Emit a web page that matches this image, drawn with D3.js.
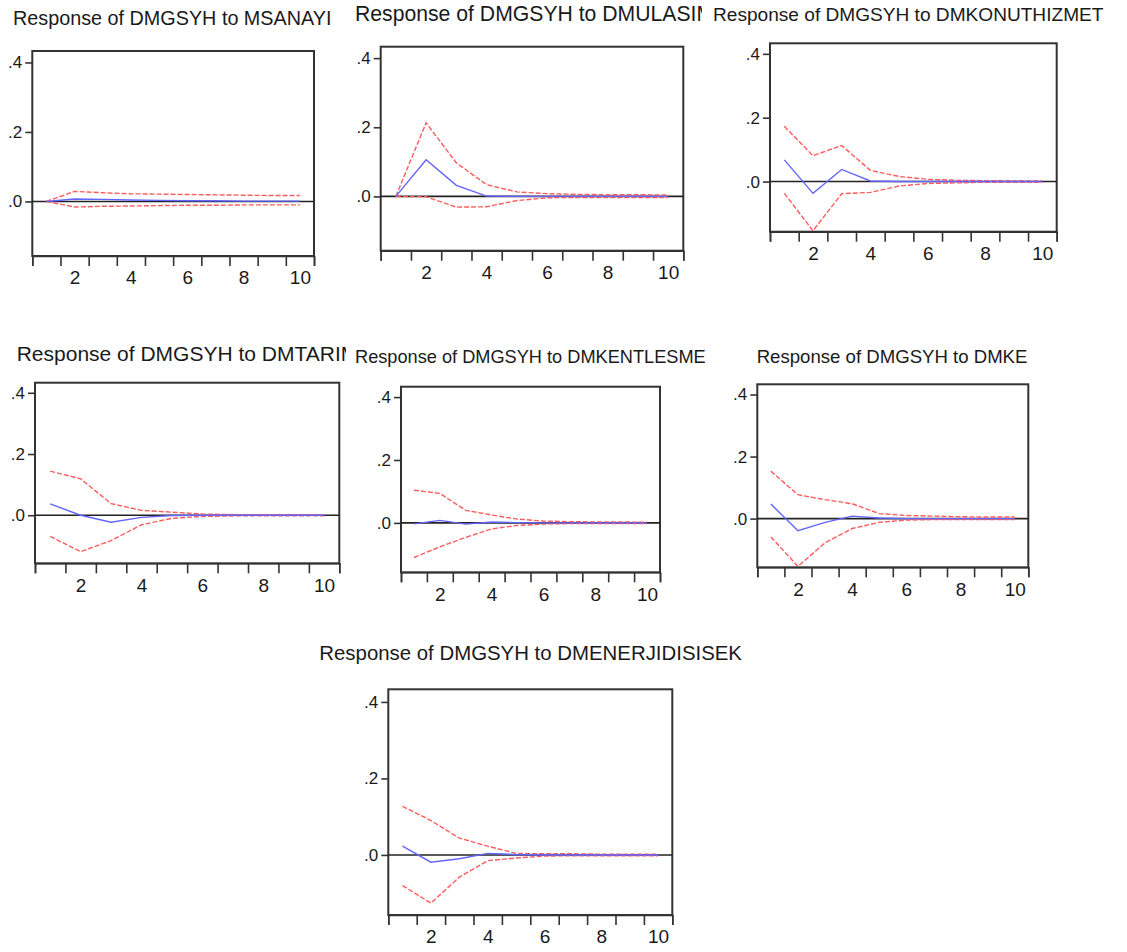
<!DOCTYPE html>
<html>
<head>
<meta charset="utf-8">
<script src="https://cdnjs.cloudflare.com/ajax/libs/d3/7.8.5/d3.min.js"></script>
<style>
  body { margin: 0; background: #fff; }
  svg { display: block; }
  .title { font-family: "Liberation Sans", Arial, sans-serif; fill: #1a1a1a; }
  .axis text { font-family: "Liberation Sans Narrow", "Arial Narrow", "Liberation Sans", Arial, sans-serif; fill: #1a1a1a; }
  .axis path, .axis line { stroke: #333; stroke-width: 1.6; }
</style>
</head>
<body>
<div id="chart"></div>
<script>
var periods = [1, 2, 3, 4, 5, 6, 7, 8, 9, 10];
var xTickLabels = [2, 4, 6, 8, 10];
var yTickValues = [0, 0.2, 0.4];
var yTickLabels = [".0", ".2", ".4"];

var shocks = ["MSANAYI", "DMULASIM", "DMKONUTHIZMET", "DMTARIM", "DMKENTLESME", "DMKE", "DMENERJIDISISEK"];

// impulse responses (blue) and +/- 2 s.e. bands (red dashed)
var msanayiResp = [0, 0.007, 0.006, 0.004, 0.003, 0.002, 0.002, 0.001, 0.001, 0.001];
var msanayiUp   = [0, 0.029, 0.025, 0.022, 0.021, 0.020, 0.019, 0.018, 0.017, 0.017];
var msanayiLo   = [0, -0.016, -0.014, -0.013, -0.012, -0.011, -0.011, -0.010, -0.010, -0.010];

var ulasimResp = [0, 0.106, 0.032, 0.001, 0, 0, 0, 0, 0, 0];
var ulasimUp   = [0, 0.213, 0.097, 0.034, 0.013, 0.008, 0.006, 0.005, 0.005, 0.004];
var ulasimLo   = [0, -0.001, -0.031, -0.030, -0.012, -0.004, -0.003, -0.003, -0.003, -0.003];

var konutResp = [0.068, -0.037, 0.038, 0.002, 0, 0, 0, 0, 0, 0];
var konutUp   = [0.173, 0.081, 0.113, 0.035, 0.016, 0.007, 0.004, 0.003, 0.002, 0.002];
var konutLo   = [-0.037, -0.154, -0.038, -0.034, -0.014, -0.006, -0.004, -0.002, -0.002, -0.002];

var tarimResp = [0.037, 0, -0.023, -0.007, -0.001, 0, 0, 0, 0, 0];
var tarimUp   = [0.144, 0.119, 0.038, 0.016, 0.010, 0.004, 0.002, 0.002, 0.002, 0.002];
var tarimLo   = [-0.069, -0.119, -0.083, -0.031, -0.010, -0.004, -0.002, -0.002, -0.002, -0.002];

var kentResp = [-0.003, 0.008, -0.004, 0.003, 0.001, 0, 0, 0, 0, 0];
var kentUp   = [0.104, 0.094, 0.040, 0.025, 0.012, 0.006, 0.004, 0.003, 0.003, 0.002];
var kentLo   = [-0.110, -0.076, -0.046, -0.019, -0.008, -0.004, -0.002, -0.002, -0.002, -0.002];

var keResp = [0.047, -0.039, -0.012, 0.008, 0.002, 0, 0, 0, 0, 0];
var keUp   = [0.153, 0.077, 0.061, 0.048, 0.016, 0.010, 0.008, 0.006, 0.005, 0.005];
var keLo   = [-0.059, -0.154, -0.078, -0.032, -0.012, -0.005, -0.003, -0.003, -0.003, -0.003];

var enerjiResp = [0.023, -0.019, -0.010, 0.004, 0.001, 0, 0, 0, 0, 0];
var enerjiUp   = [0.127, 0.090, 0.044, 0.023, 0.004, 0.003, 0.003, 0.002, 0.002, 0.002];
var enerjiLo   = [-0.080, -0.126, -0.058, -0.015, -0.008, -0.003, -0.002, -0.002, -0.002, -0.002];

var series = [
  [msanayiResp, msanayiUp, msanayiLo],
  [ulasimResp, ulasimUp, ulasimLo],
  [konutResp, konutUp, konutLo],
  [tarimResp, tarimUp, tarimLo],
  [kentResp, kentUp, kentLo],
  [keResp, keUp, keLo],
  [enerjiResp, enerjiUp, enerjiLo]
];

// panel boxes (frame l, r, t, b) and title placement / clip edge
var layout = [
  {l: 32.3, r: 314,   t: 51,    b: 256,   tx: 13,    ty: 25,    fs: 19.8, clip: 345},
  {l: 380.7, r: 683.3, t: 46.7, b: 250.7, tx: 355,   ty: 21,    fs: 21.2, clip: 702},
  {l: 770,  r: 1056.7, t: 43.3, b: 231.7, tx: 713,   ty: 21,    fs: 19.1, clip: 1127},
  {l: 35,   r: 339.3, t: 382.7, b: 563.3, tx: 16.7,  ty: 361,   fs: 21,   clip: 346},
  {l: 401,  r: 660,   t: 386.7, b: 572.3, tx: 355,   ty: 362.5, fs: 18.2, clip: 715},
  {l: 757.3, r: 1028.3, t: 384.3, b: 567.3, tx: 756.7, ty: 362.5, fs: 18.6, clip: 1127},
  {l: 388.3, r: 672.3, t: 689.3, b: 915,  tx: 319.3, ty: 660,   fs: 20.4, clip: 1127}
];

var W = 1127, H = 952;
var svg = d3.select("#chart").append("svg")
    .attr("width", W)
    .attr("height", H);

var defs = svg.append("defs");

layout.forEach(function(p, i) {
  var g = svg.append("g");

  var x = d3.scaleLinear().domain([0.5, 10.5]).range([p.l, p.r]);
  var y = d3.scaleLinear().domain([-0.157, 0.433]).range([p.b, p.t]);

  //Title, clipped where the next panel begins
  defs.append("clipPath").attr("id", "clip" + i)
    .append("rect").attr("x", 0).attr("y", p.ty - 30).attr("width", p.clip).attr("height", 40);
  g.append("text")
    .attr("class", "title")
    .attr("clip-path", "url(#clip" + i + ")")
    .attr("x", p.tx)
    .attr("y", p.ty)
    .style("font-size", p.fs + "px")
    .text("Response of DMGSYH to " + shocks[i]);

  //X axis: ticks on period boundaries, labels on even periods
  var bounds = periods.map(function(d) { return d - 0.5; }).concat([10.5]);
  g.append("g")
    .attr("class", "axis")
    .attr("transform", "translate(0," + p.b + ")")
    .call(d3.axisBottom(x).tickValues(bounds).tickSizeOuter(0).tickSize(10).tickFormat(""));
  g.append("g")
    .attr("class", "axis")
    .attr("transform", "translate(0," + p.b + ")")
    .call(d3.axisBottom(x).tickValues(xTickLabels).tickSize(0).tickPadding(15).tickFormat(d3.format("d")))
    .call(function(a) {
      a.select(".domain").remove();
      a.selectAll("text").style("font-size", "19px");
    });

  //Y axis
  g.append("g")
    .attr("class", "axis")
    .attr("transform", "translate(" + p.l + ",0)")
    .call(d3.axisLeft(y).tickValues(yTickValues).tickSize(7).tickSizeOuter(0)
      .tickFormat(function(d, j) { return yTickLabels[j]; }))
    .call(function(a) {
      a.select(".domain").remove();
      a.selectAll("text").style("font-size", "17px").attr("x", -10);
    });

  //Frame
  g.append("rect")
    .attr("x", p.l).attr("y", p.t)
    .attr("width", p.r - p.l).attr("height", p.b - p.t)
    .attr("fill", "none")
    .attr("stroke", "#333")
    .attr("stroke-width", 2);

  //Zero line
  g.append("line")
    .attr("x1", p.l).attr("x2", p.r)
    .attr("y1", y(0)).attr("y2", y(0))
    .attr("stroke", "#222")
    .attr("stroke-width", 1.6);

  var line = d3.line()
    .x(function(d, j) { return x(periods[j]); })
    .y(function(d) { return y(d); });

  var s = series[i];
  [s[1], s[2]].forEach(function(band) {
    g.append("path")
      .attr("d", line(band))
      .attr("fill", "none")
      .attr("stroke", "#ff5c5c")
      .attr("stroke-width", 1.4)
      .attr("stroke-dasharray", "5,2");
  });
  g.append("path")
    .attr("d", line(s[0]))
    .attr("fill", "none")
    .attr("stroke", "#6464ff")
    .attr("stroke-width", 1.4);
});
</script>
</body>
</html>
